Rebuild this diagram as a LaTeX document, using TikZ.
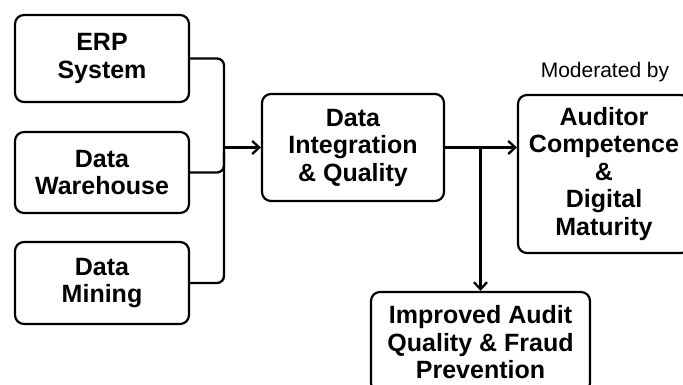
\documentclass[tikz,border=0pt]{standalone}
\usepackage{fontspec}
\setmainfont{Liberation Sans}
\usetikzlibrary{arrows.meta,calc}
\begin{document}
\begin{tikzpicture}[x=1pt,y=-1pt,
  box/.style={draw=black,line width=2.2pt,rounded corners=9pt,fill=white,
    align=center,font=\fontsize{25}{27.5}\selectfont\bfseries,inner sep=0pt},
  conn/.style={line width=2.3pt,draw=black},
  arr/.style={conn,-{Straight Barb[length=7pt,width=13pt,line width=2.3pt]}}]
\useasboundingbox (0,0) rectangle (683,385);
\clip (0,0) rectangle (683,385);
\node[box,minimum width=174pt,minimum height=87pt] (erp) at (102,58.5) {ERP\\System};
\node[box,minimum width=174pt,minimum height=81pt] (wh) at (102,172.5) {Data\\Warehouse};
\node[box,minimum width=174pt,minimum height=82pt] (dm) at (102,283) {Data\\Mining};
\node[box,minimum width=182pt,minimum height=107pt] (di) at (353,147.5) {Data\\Integration\\\& Quality};
\node[box,minimum width=172pt,minimum height=158pt] (au) at (604,174) {Auditor\\Competence\\\&\\Digital\\Maturity};
\node[box,minimum width=219pt,minimum height=100pt,text depth=0pt] (iq) at (480.5,342) {Improved Audit\\Quality \& Fraud\\Prevention};
\node[font=\fontsize{21}{24}\selectfont] (mod) at (605,72) {Moderated by};
\coordinate (jx) at (224,0);
\draw[conn,rounded corners=7pt] (erp.east) -| (jx |- dm.east) -- (dm.east);
\draw[conn,rounded corners=7pt] (wh.east) -| ($(jx |- wh.east)+(0,-20)$);
\draw[arr] (jx |- di.west) -- (di.west);
\draw[arr] (di.east) -- (di.east -| au.west);
\coordinate (br) at (iq.north |- di.east);
\draw[arr] (br) -- (iq.north);
\end{tikzpicture}
\end{document}
